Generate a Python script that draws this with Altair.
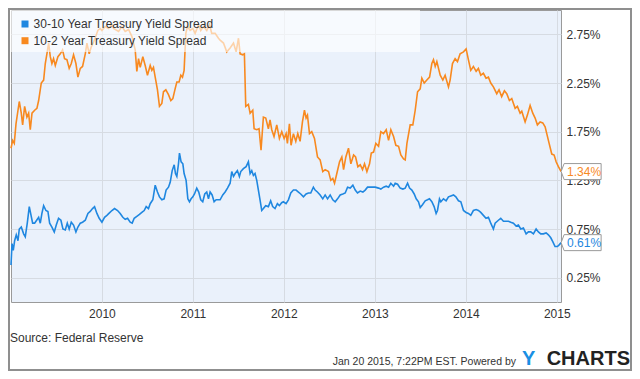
import altair as alt
import pandas as pd

# ---- data (decimal year, percent) ----
series_names = ["30-10 Year Treasury Yield Spread", "10-2 Year Treasury Yield Spread"]
series_colors = ["#1f87e0", "#f8891f"]

spread_10_2 = [
    (2009.000, 1.58), (2009.018, 1.66), (2009.036, 1.63), (2009.055, 1.83), (2009.091, 2.06),
    (2009.113, 1.94), (2009.128, 1.82), (2009.150, 2.01), (2009.175, 1.90), (2009.194, 1.94),
    (2009.212, 1.77), (2009.231, 1.94), (2009.260, 1.97), (2009.285, 1.99), (2009.304, 2.07),
    (2009.333, 2.25), (2009.359, 2.28), (2009.377, 2.45), (2009.395, 2.55), (2009.414, 2.66),
    (2009.432, 2.52), (2009.450, 2.45), (2009.468, 2.50), (2009.487, 2.43), (2009.516, 2.52),
    (2009.542, 2.55), (2009.567, 2.59), (2009.589, 2.50), (2009.615, 2.49), (2009.640, 2.40),
    (2009.663, 2.45), (2009.688, 2.54), (2009.714, 2.45), (2009.736, 2.31), (2009.762, 2.40),
    (2009.787, 2.42), (2009.817, 2.55), (2009.835, 2.66), (2009.860, 2.55), (2009.882, 2.62),
    (2009.908, 2.67), (2009.933, 2.73), (2009.955, 2.79), (2009.981, 2.81), (2010.000, 2.79),
    (2010.036, 2.83), (2010.073, 2.81), (2010.110, 2.85), (2010.128, 2.81), (2010.183, 2.78),
    (2010.220, 2.83), (2010.256, 2.78), (2010.293, 2.80), (2010.329, 2.73), (2010.366, 2.59),
    (2010.384, 2.37), (2010.403, 2.50), (2010.421, 2.41), (2010.450, 2.52), (2010.476, 2.43),
    (2010.501, 2.33), (2010.531, 2.43), (2010.549, 2.38), (2010.567, 2.41), (2010.586, 2.31),
    (2010.611, 2.18), (2010.633, 2.01), (2010.659, 2.04), (2010.677, 2.16), (2010.703, 2.18),
    (2010.732, 2.13), (2010.758, 2.07), (2010.780, 2.09), (2010.805, 2.19), (2010.824, 2.26),
    (2010.849, 2.26), (2010.868, 2.33), (2010.886, 2.31), (2010.904, 2.38), (2010.923, 2.76),
    (2010.941, 2.83), (2010.970, 2.79), (2011.000, 2.81), (2011.025, 2.76), (2011.062, 2.85),
    (2011.087, 2.79), (2011.116, 2.83), (2011.153, 2.79), (2011.183, 2.85), (2011.208, 2.76),
    (2011.245, 2.76), (2011.282, 2.71), (2011.300, 2.69), (2011.337, 2.66), (2011.373, 2.57),
    (2011.410, 2.61), (2011.447, 2.66), (2011.476, 2.57), (2011.502, 2.71), (2011.520, 2.55),
    (2011.549, 2.54), (2011.567, 2.55), (2011.582, 2.01), (2011.611, 2.03), (2011.630, 1.94),
    (2011.659, 1.97), (2011.674, 1.78), (2011.703, 1.77), (2011.728, 1.78), (2011.750, 1.56),
    (2011.776, 1.90), (2011.802, 1.89), (2011.831, 1.78), (2011.849, 1.87), (2011.868, 1.77),
    (2011.893, 1.70), (2011.923, 1.82), (2011.952, 1.68), (2011.978, 1.75), (2012.004, 1.68),
    (2012.026, 1.73), (2012.040, 1.63), (2012.062, 1.83), (2012.080, 1.61), (2012.106, 1.73),
    (2012.132, 1.65), (2012.154, 1.73), (2012.179, 1.65), (2012.205, 1.85), (2012.227, 1.97),
    (2012.245, 1.89), (2012.260, 1.92), (2012.282, 1.73), (2012.307, 1.75), (2012.337, 1.68),
    (2012.370, 1.49), (2012.399, 1.46), (2012.428, 1.34), (2012.454, 1.36), (2012.491, 1.34),
    (2012.516, 1.25), (2012.538, 1.27), (2012.557, 1.22), (2012.582, 1.32), (2012.612, 1.44),
    (2012.637, 1.49), (2012.656, 1.36), (2012.681, 1.49), (2012.710, 1.58), (2012.736, 1.42),
    (2012.766, 1.51), (2012.788, 1.49), (2012.813, 1.39), (2012.839, 1.41), (2012.864, 1.36),
    (2012.886, 1.42), (2012.912, 1.34), (2012.941, 1.42), (2012.960, 1.53), (2012.985, 1.54),
    (2013.010, 1.63), (2013.040, 1.60), (2013.065, 1.75), (2013.094, 1.73), (2013.124, 1.77),
    (2013.150, 1.66), (2013.175, 1.77), (2013.205, 1.70), (2013.230, 1.61), (2013.260, 1.60),
    (2013.285, 1.51), (2013.315, 1.47), (2013.333, 1.46), (2013.352, 1.63), (2013.388, 1.82),
    (2013.417, 1.82), (2013.443, 1.97), (2013.469, 2.16), (2013.498, 2.19), (2013.516, 2.30),
    (2013.542, 2.25), (2013.571, 2.28), (2013.601, 2.31), (2013.626, 2.45), (2013.644, 2.49),
    (2013.663, 2.42), (2013.681, 2.47), (2013.718, 2.33), (2013.747, 2.28), (2013.772, 2.33),
    (2013.809, 2.21), (2013.827, 2.28), (2013.853, 2.45), (2013.882, 2.50), (2013.908, 2.47),
    (2013.937, 2.55), (2013.974, 2.57), (2014.003, 2.60), (2014.028, 2.49), (2014.054, 2.38),
    (2014.083, 2.42), (2014.113, 2.37), (2014.138, 2.40), (2014.164, 2.33), (2014.193, 2.35),
    (2014.222, 2.30), (2014.248, 2.31), (2014.274, 2.25), (2014.303, 2.21), (2014.340, 2.14),
    (2014.365, 2.18), (2014.394, 2.11), (2014.424, 2.17), (2014.450, 2.14), (2014.479, 2.07),
    (2014.505, 2.09), (2014.542, 1.99), (2014.567, 2.01), (2014.597, 1.94), (2014.615, 1.96),
    (2014.652, 1.85), (2014.677, 1.92), (2014.707, 2.02), (2014.736, 1.94), (2014.762, 1.89),
    (2014.787, 1.82), (2014.817, 1.85), (2014.846, 1.84), (2014.872, 1.80), (2014.890, 1.73),
    (2014.916, 1.63), (2014.945, 1.52), (2014.971, 1.51), (2014.993, 1.44), (2015.018, 1.39),
    (2015.048, 1.34),
]

spread_30_10 = [
    (2009.000, 0.38), (2009.011, 0.60), (2009.025, 0.53), (2009.040, 0.63), (2009.058, 0.69),
    (2009.077, 0.63), (2009.091, 0.75), (2009.113, 0.77), (2009.139, 0.70), (2009.157, 0.67),
    (2009.179, 0.81), (2009.201, 0.98), (2009.216, 0.91), (2009.238, 0.81), (2009.260, 0.81),
    (2009.282, 0.84), (2009.304, 0.87), (2009.322, 0.81), (2009.340, 0.91), (2009.359, 0.99),
    (2009.384, 0.94), (2009.406, 0.93), (2009.425, 0.81), (2009.450, 0.77), (2009.476, 0.72),
    (2009.498, 0.79), (2009.523, 0.86), (2009.549, 0.84), (2009.571, 0.75), (2009.597, 0.74),
    (2009.619, 0.81), (2009.640, 0.75), (2009.663, 0.82), (2009.688, 0.79), (2009.714, 0.72),
    (2009.736, 0.77), (2009.762, 0.81), (2009.787, 0.82), (2009.817, 0.84), (2009.846, 0.91),
    (2009.871, 0.93), (2009.897, 0.96), (2009.919, 0.98), (2009.945, 0.91), (2009.970, 0.86),
    (2010.000, 0.82), (2010.029, 0.87), (2010.055, 0.89), (2010.077, 0.91), (2010.110, 0.94),
    (2010.139, 0.96), (2010.172, 0.94), (2010.201, 0.91), (2010.230, 0.87), (2010.256, 0.85),
    (2010.282, 0.86), (2010.311, 0.82), (2010.333, 0.81), (2010.355, 0.86), (2010.384, 0.88),
    (2010.413, 0.90), (2010.439, 0.92), (2010.465, 0.94), (2010.487, 0.98), (2010.512, 0.96),
    (2010.531, 1.01), (2010.560, 1.05), (2010.586, 1.20), (2010.611, 1.13), (2010.633, 1.08),
    (2010.659, 1.05), (2010.684, 1.06), (2010.706, 1.15), (2010.732, 1.18), (2010.751, 1.23),
    (2010.773, 1.35), (2010.795, 1.41), (2010.809, 1.32), (2010.824, 1.29), (2010.842, 1.42),
    (2010.853, 1.53), (2010.871, 1.44), (2010.890, 1.42), (2010.904, 1.32), (2010.926, 1.25),
    (2010.945, 1.06), (2010.963, 1.03), (2010.981, 1.06), (2011.000, 1.08), (2011.018, 1.11),
    (2011.043, 1.17), (2011.065, 1.13), (2011.087, 1.05), (2011.109, 1.03), (2011.131, 1.11),
    (2011.153, 1.13), (2011.172, 1.06), (2011.190, 1.13), (2011.212, 1.10), (2011.234, 1.03),
    (2011.256, 1.05), (2011.282, 1.05), (2011.300, 1.05), (2011.329, 1.10), (2011.355, 1.13),
    (2011.381, 1.17), (2011.410, 1.22), (2011.428, 1.34), (2011.447, 1.29), (2011.465, 1.32),
    (2011.490, 1.35), (2011.512, 1.29), (2011.527, 1.34), (2011.556, 1.37), (2011.586, 1.39),
    (2011.611, 1.44), (2011.630, 1.32), (2011.648, 1.35), (2011.666, 1.30), (2011.684, 1.32),
    (2011.703, 1.25), (2011.721, 1.15), (2011.739, 1.05), (2011.758, 0.94), (2011.776, 0.96),
    (2011.801, 0.99), (2011.831, 0.98), (2011.856, 1.04), (2011.878, 0.98), (2011.904, 0.96),
    (2011.930, 1.01), (2011.952, 0.99), (2011.977, 1.02), (2011.996, 1.03), (2012.025, 1.01),
    (2012.051, 1.05), (2012.077, 1.12), (2012.106, 1.15), (2012.135, 1.15), (2012.161, 1.13),
    (2012.186, 1.11), (2012.216, 1.08), (2012.245, 1.11), (2012.271, 1.12), (2012.296, 1.12),
    (2012.325, 1.18), (2012.344, 1.15), (2012.369, 1.13), (2012.399, 1.10), (2012.428, 1.06),
    (2012.454, 1.10), (2012.480, 1.06), (2012.509, 1.10), (2012.538, 1.05), (2012.564, 1.03),
    (2012.590, 1.06), (2012.619, 1.10), (2012.648, 1.11), (2012.674, 1.12), (2012.700, 1.18),
    (2012.729, 1.17), (2012.758, 1.20), (2012.784, 1.15), (2012.809, 1.12), (2012.839, 1.14),
    (2012.868, 1.13), (2012.893, 1.15), (2012.919, 1.18), (2012.948, 1.18), (2012.978, 1.18),
    (2013.003, 1.18), (2013.040, 1.17), (2013.065, 1.16), (2013.095, 1.18), (2013.124, 1.19),
    (2013.150, 1.18), (2013.175, 1.22), (2013.205, 1.19), (2013.223, 1.22), (2013.249, 1.21),
    (2013.278, 1.17), (2013.307, 1.16), (2013.333, 1.17), (2013.359, 1.22), (2013.381, 1.17),
    (2013.406, 1.15), (2013.432, 1.11), (2013.454, 1.06), (2013.479, 1.03), (2013.498, 0.97),
    (2013.523, 1.00), (2013.553, 1.04), (2013.578, 1.05), (2013.600, 1.06), (2013.626, 1.03),
    (2013.651, 0.98), (2013.673, 0.91), (2013.688, 0.94), (2013.710, 1.06), (2013.725, 1.03),
    (2013.754, 1.06), (2013.783, 1.04), (2013.809, 1.08), (2013.835, 1.09), (2013.864, 1.10),
    (2013.890, 1.08), (2013.919, 1.04), (2013.945, 1.03), (2013.974, 0.94), (2014.003, 0.92),
    (2014.028, 0.91), (2014.054, 0.89), (2014.083, 0.94), (2014.113, 0.95), (2014.138, 0.94),
    (2014.164, 0.92), (2014.193, 0.89), (2014.222, 0.86), (2014.248, 0.87), (2014.274, 0.81),
    (2014.303, 0.75), (2014.322, 0.81), (2014.358, 0.84), (2014.384, 0.86), (2014.413, 0.83),
    (2014.443, 0.83), (2014.469, 0.83), (2014.494, 0.82), (2014.523, 0.81), (2014.553, 0.78),
    (2014.578, 0.79), (2014.604, 0.75), (2014.633, 0.76), (2014.663, 0.70), (2014.688, 0.72),
    (2014.714, 0.72), (2014.743, 0.70), (2014.773, 0.75), (2014.798, 0.72), (2014.824, 0.70),
    (2014.853, 0.70), (2014.883, 0.71), (2014.908, 0.69), (2014.934, 0.66), (2014.956, 0.62),
    (2014.981, 0.57), (2015.007, 0.57), (2015.029, 0.59), (2015.048, 0.61),
]

y_ticks = [0.25, 0.75, 1.25, 1.75, 2.25, 2.75]
x_tick_years = [2010, 2011, 2012, 2013, 2014, 2015]
source_text = "Source: Federal Reserve"
footer_text = "Jan 20 2015, 7:22PM EST.  Powered by"


def to_date(y):
    yr = int(y)
    start = pd.Timestamp(year=yr, month=1, day=1)
    nxt = pd.Timestamp(year=yr + 1, month=1, day=1)
    return start + (nxt - start) * (y - yr)


rows = []
for name, series in zip(series_names, [spread_30_10, spread_10_2]):
    for yv, val in series:
        rows.append({"date": to_date(yv).strftime("%Y-%m-%dT%H:%M:%S"), "value": val, "series": name})
df = pd.DataFrame(rows)

last = df.groupby("series", sort=False).tail(1).copy()
last["label"] = last["value"].map(lambda v: f"{v:.2f}%")

W, H = 550, 292
PAD_L, PAD_T, PAD_R, PAD_B = 3, 2, 71, 69

color = alt.Color("series:N", scale=alt.Scale(domain=series_names, range=series_colors), legend=None)
x_enc = alt.X(
    "date:T",
    scale=alt.Scale(domain=[alt.DateTime(year=2009, month=1, date=1), alt.DateTime(year=2015, month=1, date=18)]),
    axis=alt.Axis(
        values=[alt.DateTime(year=y, month=1, date=1) for y in x_tick_years],
        format="%Y", title=None, ticks=False, domain=False, labelPadding=6,
        grid=True, labelFlush=False,
    ),
)
y_enc = alt.Y(
    "value:Q",
    scale=alt.Scale(domain=[0, 3], nice=False, zero=False),
    axis=alt.Axis(
        orient="right", values=y_ticks, labelExpr="format(datum.value, '.2f') + '%'",
        title=None, ticks=False, domain=False, labelPadding=5, grid=True,
    ),
)

lines = alt.Chart(df).mark_line(strokeWidth=1.6, interpolate="linear").encode(
    x=x_enc, y=y_enc, color=color, detail="series:N"
)

one = pd.DataFrame({"k": [0]})

legend_bg = alt.Chart(one).mark_rect(fill="white", opacity=0.62).encode(
    x=alt.value(0), x2=alt.value(409), y=alt.value(0), y2=alt.value(42)
)

legend_layers = []
for i, (name, col) in enumerate(zip(series_names, series_colors)):
    ypix = 14 + i * 16.7
    legend_layers.append(
        alt.Chart(one).mark_square(size=49, filled=True, opacity=1, color=col).encode(
            x=alt.value(14), y=alt.value(ypix)
        )
    )
    legend_layers.append(
        alt.Chart(one).mark_text(
            align="left", baseline="middle", font="Liberation Sans", fontSize=12,
            color="#333333", text=name,
        ).encode(x=alt.value(22.6), y=alt.value(ypix))
    )

box_path = "M0,0L0.15,-0.4L2,-0.4L2,0.4L0.15,0.4Z"
end_box = alt.Chart(last).mark_point(
    shape=box_path, size=1600, filled=True, fill="white", stroke="#9a9a9a",
    strokeWidth=1, opacity=1, fillOpacity=1, strokeOpacity=1,
).encode(x="date:T", y="value:Q")
end_txt = alt.Chart(last).mark_text(
    align="center", baseline="middle", dx=23, font="Liberation Sans", fontSize=12
).encode(x="date:T", y="value:Q", text="label:N", color=color)

frame = alt.Chart(one).mark_rect(fillOpacity=0, stroke="#8f8f8f", strokeWidth=2).encode(
    x=alt.value(-2), x2=alt.value(620), y=alt.value(-1), y2=alt.value(360)
)

src = alt.Chart(one).mark_text(
    align="left", baseline="middle", font="Liberation Sans", fontSize=12, color="#333333", text=source_text
).encode(x=alt.value(-1), y=alt.value(328))

footer = alt.Chart(one).mark_text(
    align="right", baseline="alphabetic", font="Liberation Sans", fontSize=10.5, color="#333333", text=footer_text
).encode(x=alt.value(505), y=alt.value(355))

logo_y = alt.Chart(one).mark_text(
    align="left", baseline="alphabetic", font="Liberation Sans", fontSize=20, fontWeight="bold",
    color="#1a8fe3", text="Y"
).encode(x=alt.value(511), y=alt.value(355))
logo_rest = alt.Chart(one).mark_text(
    align="right", baseline="alphabetic", font="Liberation Sans", fontSize=20, fontWeight="bold",
    color="#222222", text="CHARTS"
).encode(x=alt.value(619), y=alt.value(355))

chart = alt.layer(
    frame, lines, legend_bg, *legend_layers, end_box, end_txt, src, footer, logo_y, logo_rest
).properties(
    width=W, height=H,
    autosize=alt.AutoSizeParams(type="none"),
    padding={"left": PAD_L, "top": PAD_T, "right": PAD_R, "bottom": PAD_B},
    background="white",
).configure_view(
    fill="#eaf1fb", stroke="#9a9a9a", strokeWidth=1
).configure_axis(
    gridColor="#d6dbe2", gridWidth=1, labelFont="Liberation Sans", labelFontSize=12, labelColor="#333333"
)

chart.save("out.html", embed_options={"renderer": "svg", "actions": False})
